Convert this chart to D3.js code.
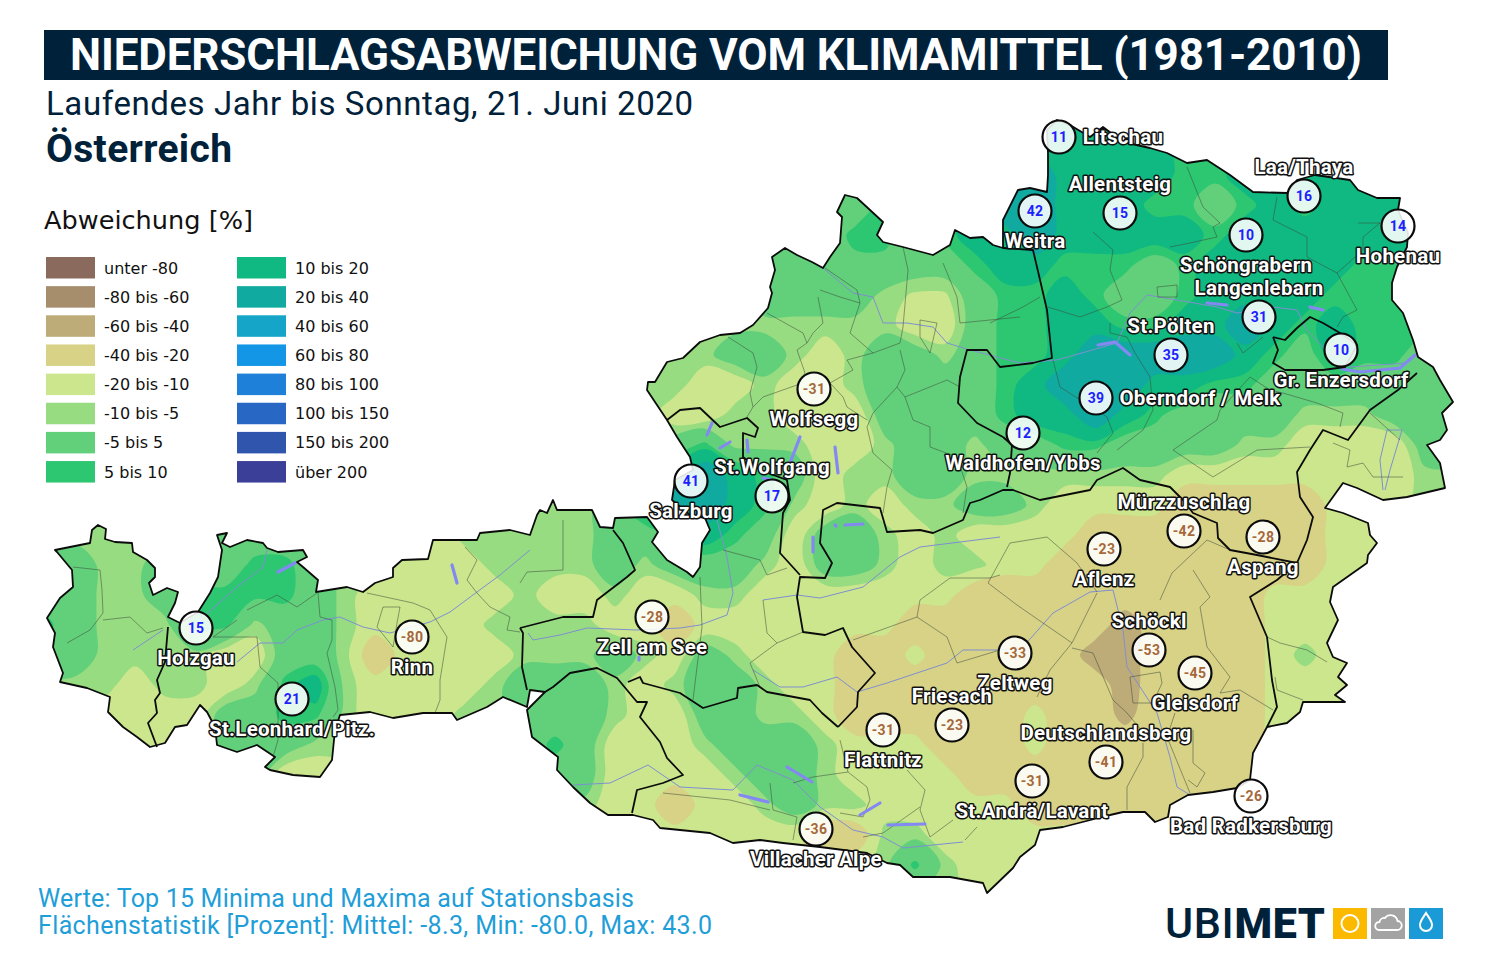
<!DOCTYPE html>
<html lang="de">
<head>
  <meta charset="UTF-8" />
  <title>Niederschlagsabweichung vom Klimamittel</title>
  <script src="https://d3js.org/d3.v7.min.js"></script>
  <style>
    body { margin: 0; background: #fff; }
    svg { display: block; font-family: 'Roboto', sans-serif; }
    .legend text, .legend-title { font-family: 'DejaVu Sans', sans-serif; fill: #111; }
    .st-label {
      font-weight: 700; font-size: 20.5px; letter-spacing: 0.25px; fill: #fff; stroke: #111; stroke-width: 3px;
      paint-order: stroke; stroke-linejoin: round; text-anchor: middle;
    }
    .st-value { font-weight: 700; font-size: 14px; letter-spacing: 0.3px; text-anchor: middle; }
  </style>
</head>
<body>
  <svg id="chart" width="1500" height="960"></svg>
  <script>
    // legend classes
    const classLabels = ["unter -80", "-80 bis -60", "-60 bis -40", "-40 bis -20", "-20 bis -10", "-10 bis -5", "-5 bis 5", "5 bis 10",
      "10 bis 20", "20 bis 40", "40 bis 60", "60 bis 80", "80 bis 100", "100 bis 150", "150 bis 200", "über 200"];
    const classColors = ["#8a6a5c", "#a68d6c", "#bdac78", "#d8d286", "#cbe68c", "#98dc82", "#62d07a", "#2ec771",
      "#10b981", "#10aaa0", "#14a5c8", "#1496e6", "#1e80d8", "#2868c4", "#3055ac", "#3c3f98"];
    const classBreaks = [-80, -60, -40, -20, -10, -5, 5, 10, 20, 40, 60, 80, 100, 150, 200];

    // stations (map grid units)
    const stationNames = ["Litschau", "Allentsteig", "Weitra", "Laa/Thaya", "Hohenau", "Schöngrabern", "Langenlebarn", "St.Pölten",
      "Oberndorf / Melk", "Gr. Enzersdorf", "Waidhofen/Ybbs", "Wolfsegg", "St.Wolfgang", "Salzburg", "Mürzzuschlag", "Aspang",
      "Aflenz", "Schöckl", "Gleisdorf", "Zeltweg", "Friesach", "Flattnitz", "Deutschlandsberg", "St.Andrä/Lavant",
      "Bad Radkersburg", "Villacher Alpe", "Zell am See", "Rinn", "Holzgau", "St.Leonhard/Pitz."];
    const stationValues = [11, 15, 42, 16, 14, 10, 31, 35, 39, 10, 12, -31, 17, 41, -42, -28, -23, -53, -45, -33, -23, -31, -41, -31, -26, -36, -28, -80, 15, 21];
    const stationE = [105.9, 112.0, 103.5, 130.4, 139.8, 124.6, 125.9, 117.1, 109.6, 134.1, 102.3, 81.4, 77.2, 69.1, 118.4, 126.3,
      110.4, 114.9, 119.5, 101.5, 95.2, 88.3, 110.6, 103.2, 125.1, 81.6, 65.2, 41.2, 19.6, 29.2];
    const stationN = [13.7, 21.3, 21.1, 19.6, 22.6, 23.5, 31.7, 35.5, 39.8, 35.0, 43.3, 38.9, 49.6, 48.1, 53.1, 53.7,
      54.9, 65.0, 67.3, 65.3, 72.5, 73.0, 76.2, 78.1, 79.6, 82.9, 61.7, 63.7, 62.8, 69.9];
    const stationSide = ["right", "above", "below", "above", "below", "below", "above", "above",
      "right", "below", "below", "below", "above", "below", "above", "below",
      "below", "above", "below", "below", "above", "below", "above", "below",
      "below", "below", "below", "below", "below", "below"];

    // anomaly field, rows north to south, columns west to east
    const fieldRows = [
      [0,0,0,0,0,0, 0,0,0,0,0,0, 0,0,0,0,0,0, 0,0,0,0,0,0, 0,0,0,0,0,0, 7,7,7,15,15,15, 15,15,15,15,15,15, 15,15,15,15,15,15],
      [0,0,0,0,0,0, 0,0,0,0,0,0, 0,0,0,0,0,0, 0,0,0,0,0,0, 0,0,0,0,0,0, 7,7,15,15,15,15, 15,15,7,7,7,15, 15,15,15,15,15,15],
      [0,0,0,0,0,0, 0,0,0,0,0,0, 0,0,0,0,0,0, 0,0,0,0,0,0, 0,0,0,0,0,0, 7,15,15,30,15,15, 15,15,7,7,15,15, 15,15,15,15,15,15],
      [0,0,0,0,0,0, 0,0,0,0,0,0, 0,0,0,0,0,0, 0,0,0,0,0,0, 0,0,0,0,7,7, 7,15,30,30,15,15, 15,7,7,0,7,15, 7,15,15,15,15,15],
      [0,0,0,0,0,0, 0,0,0,0,0,0, 0,0,0,0,0,0, 0,0,0,0,0,0, 0,0,0,7,7,0, 7,15,15,30,15,15, 15,15,15,7,15,15, 15,15,15,15,15,15],
      [0,0,0,0,0,0, 0,0,0,0,0,0, 0,0,0,0,0,0, 0,0,0,0,0,0, 0,0,0,3,3,0, 0,7,15,15,7,7, 7,0,7,15,15,15, 15,15,7,7,7,7],
      [-7,-7,-7,-7,-7,-7, -7,-7,-7,-7,-7,-7, -7,-7,-7,-7,-7,-7, -7,-7,-7,-7,-7,-7, 0,0,0,0,-7,-11, -11,0,7,7,15,7, 0,0,7,15,15,15, 15,7,7,7,7,7],
      [-7,-7,-7,-7,-7,-7, -7,-7,-7,-7,-7,-7, -7,-7,-7,-7,-7,-7, -7,-7,-7,-7,-7,-7, -7,-7,-7,-7,-7,-15, -15,0,7,7,15,15, 7,7,15,15,30,15, 7,15,7,7,7,7],
      [-7,-7,-7,-7,-7,-7, -7,-7,-7,-7,-7,-7, -7,-7,-7,-7,-7,-7, -7,-7,-7,-7,-7,0, 0,-7,-15,-7,0,0, -7,0,7,7,15,30, 30,30,30,30,15,7, 0,15,7,7,0,0],
      [-7,-7,-7,-7,-7,-7, -7,-7,-7,-7,-7,-7, -7,-7,-7,-7,-7,-7, -7,-7,-7,-7,-15,-15, -7,-15,-15,-7,0,0, 0,0,7,15,30,30, 30,15,15,7,7,0, 0,0,0,0,0,0],
      [-7,-7,-7,-7,-7,-7, -7,-7,-7,-7,-7,-7, -7,-7,-7,-7,-7,-7, -7,-7,-7,-15,-15,-7, -7,-15,-15,-15,0,0, 0,0,7,15,15,30, 15,7,0,0,0,0, -7,-7,-7,0,0,0],
      [-7,-7,-7,-7,-7,-7, -7,-7,-7,-7,-7,-7, -7,-7,-7,-7,-7,-7, -7,-7,-7,0,7,-7, -7,-7,-15,-15,-7,0, 0,-7,0,0,7,7, 0,0,0,0,-7,-7, -15,-15,-15,-15,0,0],
      [-7,-7,-7,-7,-7,-7, -7,-7,-7,-7,-7,-7, -7,-7,-7,-7,-7,-7, -7,-7,7,15,30,15, 7,0,-15,-7,-7,0, 0,-7,-7,-7,-7,-7, -7,-7,-15,-15,-15,-15, -15,-15,-15,-15,-7,-7],
      [-7,-7,-7,-7,-7,-7, -7,-7,-7,-7,-7,-7, -7,-7,-7,-7,-7,-7, -7,0,15,30,30,15, 7,-7,-15,-7,-15,-7, -7,0,0,-7,-15,-15, -15,-15,-30,-30,-30,-30, -30,-15,-15,-15,-7,-7],
      [-7,-7,-7,-7,-7,0, 0,0,0,0,-7,-7, -7,-15,-7,-7,-7,-7, -7,0,0,7,15,7, 0,-15,0,0,-7,-15, -7,-15,-15,-15,-15,-30, -30,-30,-30,-30,-30,-30, -30,-15,-15,-15,-15,-15],
      [0,0,-7,-7,0,0, 0,7,7,0,-7,-7, -15,-15,-15,-7,-7,-7, -7,0,-7,0,0,0, -7,-15,0,0,-7,-15, -7,-7,-15,-15,-30,-30, -30,-30,-30,-30,-30,-30, -30,-15,-15,-15,-15,-15],
      [0,0,-7,-7,0,7, 7,7,7,0,-7,-15, -15,-15,-15,-15,-7,-15, -15,-7,-15,-15,-7,-7, -15,-15,-15,-15,-15,-15, -15,-30,-30,-30,-30,-30, -30,-30,-30,-30,-30,-15, -15,-15,-15,-15,-15,-15],
      [7,0,-7,-7,-7,7, 7,-7,0,0,-7,-15, -15,-15,-15,-7,-7,-7, -7,-15,-15,-30,-15,-15, -15,-15,-15,-15,-15,-30, -30,-30,-30,-30,-30,-30, -50,-30,-30,-30,-30,-15, -15,-15,-15,-15,-15,-15],
      [0,0,-7,-7,-7,-7, -15,-15,0,0,-7,-30, -15,-15,-15,-15,-7,-7, -7,0,-7,-15,0,-7, -15,-15,-15,-30,-30,-15, -30,-30,-30,-30,-30,-50, -50,-30,-30,-30,-30,-15, -7,-15,-15,-15,-15,-15],
      [-7,-7,-7,-15,-7,-7, -15,-7,7,15,-7,-15, -15,-15,-15,-7,0,0, 0,-7,-15,-7,0,0, -7,-15,-15,-30,-30,-30, -30,-30,-30,-30,-30,-30, -50,-30,-30,-30,-30,-15, -15,-15,-15,-15,-15,-15],
      [-15,-15,-15,-15,-15,-15, 0,0,7,7,-7,-15, -15,-15,-7,-7,0,0, 0,-7,-15,-15,0,0, -7,-7,-15,-30,-30,-30, -30,-30,-30,-15,-30,-30, -45,-30,-30,-30,-30,-15, -15,-15,-15,-15,-15,-15],
      [-15,-15,-15,-15,-15,-15, 0,0,0,-7,-7,-15, -15,-15,-7,-7,0,7, 0,-15,-15,-15,-7,0, 0,0,-7,-15,-15,-15, -30,-30,-30,-15,-30,-30, -30,-30,-30,-30,-30,-15, -15,-15,-15,-15,-15,-15],
      [-15,-15,-15,-15,-15,-15, 0,0,-15,-15,-15,-15, -15,-15,-7,-7,0,0, 0,-15,-15,-15,-15,-7, 0,0,-7,-15,-15,-15, -15,-30,-30,-30,-30,-30, -30,-30,-30,-30,-30,-30, -30,-15,-15,-15,-15,-15],
      [-7,-7,-7,-7,-7,-7, -7,-7,-7,-7,-7,-7, -7,-7,-7,-7,-7,-7, -7,-15,-15,-30,-15,-15, -7,0,-7,-7,-15,-15, -15,-15,-15,-30,-30,-30, -30,-30,-30,-30,-30,-30, -30,-30,-30,-30,-30,-30],
      [-7,-7,-7,-7,-7,-7, -7,-7,-7,-7,-7,-7, -7,-7,-7,-7,-7,-7, -15,-15,-15,-15,-15,-15, -15,-15,-30,-30,-7,-7, -15,-15,-15,-15,-15,-15, -30,-30,-30,-30,-30,-30, -30,-30,-30,-30,-30,-30],
      [-7,-7,-7,-7,-7,-7, -7,-7,-7,-7,-7,-7, -7,-7,-7,-7,-7,-7, -15,-15,-15,-15,-15,-15, -15,-15,-30,-15,-7,7, -7,-15,-15,-15,-15,-15, -30,-30,-30,-30,-30,-30, -30,-30,-30,-30,-30,-30],
      [-7,-7,-7,-7,-7,-7, -7,-7,-7,-7,-7,-7, -7,-7,-7,-7,-7,-7, -15,-15,-15,-15,-15,-15, -15,-15,-15,-15,-7,-7, -7,-15,-15,-15,-15,-15, -30,-30,-30,-30,-30,-30, -30,-30,-30,-30,-30,-30]
    ];

    // Austria and the Bundesland borders, east/north in map grid units
    const outline = [[5.5,55],[9,54.3],[9.2,53],[9.8,52.5],[10.6,52.9],[10.5,53.9],[11.5,54.2],[13.2,54.3],[13.3,55.2],[14.7,56],[15.5,56.8],[15.5,57.7],[14.9,58.3],[15.3,59.5],[16.7,58.8],[17.8,59.2],[17.5,60.3],[16.8,61.7],[18,62.3],[19.8,61.2],[21,59.3],[21.8,57.7],[22.2,55],[21.7,53.5],[22.7,53.3],[22.2,54.3],[23,54.7],[24.7,54],[26.3,54.3],[26.7,54.8],[27.8,55.2],[30.3,55],[30.7,55.7],[29.7,56.2],[30.3,56.7],[31.8,58],[31.6,59.2],[34.7,58.7],[36.3,59.2],[37.5,58.3],[39.3,57.7],[39.3,56.8],[40.2,56],[42.8,55.9],[43.3,54],[47.7,54],[48,53.3],[51,53],[53,53.5],[53.7,51.5],[54,51],[54.7,51.3],[55.3,50],[55.7,51],[57.2,51],[59.2,51],[60,52.7],[61.3,52.8],[61.5,51.8],[64.7,51.7],[65.8,53.2],[65.2,54.2],[66.7,56],[68.7,57.2],[69.3,57.7],[70,56.7],[70.2,54.3],[71,53],[70.5,51.8],[69,51.5],[67.2,50],[67.5,48],[69.3,47],[69,45.7],[67.7,43.7],[66.7,42],[64.7,39],[64.8,38.2],[65.5,38.2],[66.7,36.2],[68.3,35.8],[70,34.2],[72,33.5],[74,33.3],[75.3,32.5],[76.8,30.8],[77.2,29.3],[77,28.7],[77.5,27],[77.2,25.7],[78.5,24.8],[79.7,25.5],[81.2,26.2],[82.3,26.8],[83,25.7],[84,24.3],[84.2,21.7],[83.7,21.2],[84.5,19.5],[85.7,19.8],[87,21],[88.3,22.2],[87.7,23.5],[88.3,24.2],[90.3,24.7],[93.3,25.5],[95,24.5],[95.5,23],[97,23.8],[98.3,23.7],[99.3,24.5],[100.3,24.8],[100.3,22],[101.8,19],[103,18.8],[104.7,19.2],[104.8,17.5],[104.8,15.3],[104.7,13],[105.7,12],[107,12.5],[109,13.7],[110.3,12.7],[112.3,14.2],[115,14.8],[116.7,15.3],[118.7,16.3],[120.7,16],[123,17.5],[125.3,19.2],[128.7,19.3],[129.7,18],[131.5,17.5],[135,18],[135.8,19],[137.7,19.8],[140,19.8],[139.8,21],[140.8,23.3],[140.7,24.7],[139.7,26.7],[139.2,28.3],[139.2,30],[140.3,31.3],[141.3,34],[141.8,35.7],[143.3,36.7],[144,38],[145.3,40.2],[144.2,41.3],[144.7,43],[144,44],[142.7,44.5],[144,46.3],[144.5,48.8],[140.7,49.7],[138.3,50],[135.7,48.8],[134.3,48.3],[132.5,50.8],[134.3,51.3],[136.8,52.3],[137,53.5],[137.7,54.3],[136.8,55.5],[136.7,56.3],[133.3,58.7],[133,60.2],[133.8,62],[132.7,64.3],[133.3,65.7],[134.7,66.3],[133.8,67.7],[134.7,68.5],[133.5,69.5],[134.5,70.2],[130.3,70.2],[130,71.2],[128.7,72.3],[126.7,72.7],[125.3,75.3],[125,78],[123.7,78.8],[121.3,79.2],[118.8,79.5],[117,80.5],[116.8,81.7],[115.5,82.2],[114.5,81.2],[112.3,81.2],[111,81.5],[106.3,82.7],[104,83],[103.5,84.5],[102,85.7],[101.3,86.8],[98.7,89.3],[98.3,88.3],[95,87.7],[91.3,87.7],[90,86.5],[88.7,86.3],[86.7,85.3],[82,84.7],[78.3,84.3],[76,84],[73.3,84.3],[71,83.3],[66,82.8],[65.3,82],[63.3,81.5],[60.8,81.5],[59,80.3],[57.3,78.7],[55.7,77],[55.8,75.7],[53.2,73.7],[52.7,71],[54.5,69.2],[53,69],[52.7,70.7],[50.3,69.7],[48.7,70.7],[45.7,72],[45.2,71.3],[42.3,71.3],[39.3,71.8],[37,71.2],[34,71.5],[33.5,73],[33.2,76],[32,77.7],[29.3,77.5],[27,77],[26.5,76.7],[27.5,75.7],[25.7,74.5],[23.7,75.2],[21.7,74.5],[21.5,72.7],[20.7,71.2],[20,70.5],[18.7,72.5],[17.5,72.7],[16.5,74.3],[15,74.7],[13.7,73.7],[12.3,72.7],[10.8,71.2],[11,69.7],[8.7,68.8],[6,68.2],[6.3,67.3],[5.3,64.7],[5.5,63.3],[4.7,61.8],[6,59.8],[7.3,58.7],[7.2,57],[5.7,55.2]];
    const stateBorders = [
      [[16.8,62.7],[16.5,66.2],[15.7,68],[16,69.3],[15.5,70],[15.7,71.3],[14.8,72.3],[15.7,74.7]],
      [[54.5,69.2],[55.3,68.7],[57,67.3],[59.7,66.8],[61.7,67.8],[63.7,70.2],[64.7,70.2],[64,71.7],[66,74.2],[66.7,75.8],[68.3,77.5],[66.3,78.3],[63.7,79],[63.2,81.3]],
      [[52,62.8],[56.3,61.7],[59.3,61.7],[59.7,60],[62.7,57.7],[63.5,57],[62.3,54.3],[61.3,53]],
      [[52,62.8],[52.3,63.3],[52.2,66.7],[52.7,69]],
      [[62.8,68.2],[64,67.7],[64.3,68.3],[68,69.3],[70.3,70.8],[73.7,69.8],[73.8,68.8],[75.7,68.5],[76.7,69.2],[81,70],[82.2,71.3],[83.8,72.7]],
      [[83.8,72.7],[85.7,70.7],[85.8,69.2],[87.5,67.3],[85.2,64.7],[84.3,62.8],[82.5,63.5],[80.3,63.2],[79.7,59.7],[80,57.7],[82.5,57.8],[83.2,56.3],[82,54.3],[82.3,51],[83.7,50.3],[88,50.8],[88.7,53.2],[92,53],[93.3,53.3],[96.3,52],[97,50.3],[98,50],[100.3,49],[101.3,49],[104,50],[109,49],[109.7,48],[112.3,46.8],[114,48],[117,48.7],[118.3,50],[119.3,51.3],[121.7,52.3],[121.8,53.8],[123,55],[125.7,55.5],[129.7,56.3],[127.7,58],[125,59.7],[126.7,63.7],[127.2,68],[127.7,70.7],[126.7,72.7]],
      [[129.7,56.3],[130.7,54],[131.3,51.7],[130,49.7],[129.7,47.2],[131,45],[132.3,43],[134.8,44],[137,41],[139.8,39],[141.7,37.3]],
      [[66.7,42],[68,41],[70,40.8],[72,42.7],[74.7,41.8],[75.8,42.8],[75.5,43.7],[74.3,43.3],[74.3,45.7],[76,47],[78.7,48],[79,50],[78.3,51.3],[78,55.3],[80,57.5]],
      [[100.3,43.7],[101.2,44.5],[101,47.3],[100.7,48.7]],
      [[100.3,24.8],[103.3,25],[103.7,26.7],[104.7,31],[105.2,35.8],[103.3,36.3],[100,36.7],[98.7,35],[96.7,35],[96,37.7],[95.8,40.3],[97.7,42.3],[100.3,43.7]],
      [[127.3,33.7],[128.5,34],[129.7,32.8],[131,31.7],[132.3,32.3],[134,33.3],[135.7,34.5],[134.5,36.7],[132.3,37],[128.5,37],[127.3,36.3],[127.8,35],[127.3,33.7]]
    ];
    const districtLines = [
      [[7.3,56.7],[10,57],[10.2,59],[10.3,61.3],[9,63],[6.7,64.3]],[[10.3,62],[13,61.7],[14.7,63.3],[16.3,62.8]],
      [[24.7,61],[27.7,59.5],[29.7,60.7],[31.7,59.3]],[[23.7,62],[21.3,63.7],[25.7,63.7],[26,66.7],[27.8,68.3],[27.8,74],[27.3,75.7]],
      [[31.8,59.3],[32,61.7],[33.2,62],[33.2,64],[32.7,65.3],[33.5,68.7],[33.8,71],[33.3,71.7]],
      [[36.7,59.3],[41.3,60.3],[43,61],[44.7,63.7],[44,68],[44,70],[43.5,71.3]],[[37.7,62.7],[38.3,60.7],[40,60.7],[39.7,62.3],[39.3,64.7],[37.7,62.7]],
      [[47.7,59.3],[49,60.7],[51,61.7],[50.7,63],[52,63.2]],[[46.5,54.7],[47.7,56],[46.7,58],[47.7,59.3]],
      [[56.3,52],[56.3,57],[52.7,57.2],[52,58.3]],[[76.3,60],[76.7,63.3],[77.7,64.3]],[[70,57.7],[70.2,62.7],[69.7,66.7],[69.3,70]],
      [[72.3,55],[76,56],[76.7,57.5],[78.7,56.8]],[[77.7,64.3],[80.3,63.2]],[[77.7,64.3],[75,66.3],[76,68.7]],
      [[85.3,64],[91.7,61.7],[92,60],[95,57.8],[99,57.8],[100,57.5]],[[91.7,61.7],[94.7,63.7],[95.7,66.3],[100,65]],
      [[98.8,58.3],[101.7,60.5],[104.3,62.3],[107.2,64.3],[109.7,59.3]],[[98.8,58.3],[101,54.3],[104.7,53.7],[107.7,56.3],[109.7,59.2]],
      [[107.2,64.3],[105,67],[103.7,69.7]],[[107.2,64.8],[109.3,65.3],[111.3,70],[112.7,71.3],[114.7,73.7]],
      [[113,67.7],[116,67.2],[116.2,68.3],[115.3,70.3],[113.3,70.3],[113,67.7]],[[116,60],[117.2,57.3],[120.7,54],[123,55]],
      [[119.3,57],[121,59.7],[120,60.7],[120.7,64.7],[123,67.7],[122,69.3],[124,69],[127.3,71]],
      [[117.5,71.3],[116.7,73.7],[119,79.3]],[[119.3,73],[119.3,76.3],[120.5,77.3],[119.7,78.7],[118.8,78]],
      [[114.3,74.3],[114.3,75.7],[112.7,78.7],[112.7,81]],[[126.7,63.7],[128,64.3],[130.7,65],[132.7,66.2]],[[127.5,67.7],[127.7,69],[130.3,70]],
      [[84,74],[84.8,77.2],[81.3,77.7],[79.3,78.3]],[[84.8,77.2],[86.7,78.7],[87,80],[86.3,81.7],[84,81.3]],
      [[90.7,77],[92.5,79],[92,81],[93,83.7],[95.3,82]],[[86.3,83.7],[88.3,83.3],[92,80.7]],[[96.5,84],[97.7,82.7]],
      [[77,78.3],[77.3,81],[79.7,81.7],[79.3,84]],[[66.3,79.3],[73,80],[77,81]],
      [[72.8,33.7],[75.3,35.3],[75.7,36.7],[75,39.3],[75.3,40.7],[74.7,41.7]],
      [[76.7,31.3],[80.3,33.3],[80.7,34.3],[79.7,35],[80.5,37.3],[79.7,38.5],[76.3,39.7],[75.3,40.7]],
      [[82.5,26.8],[85.7,29],[86,30.3],[85,33.3],[87.3,35.3],[84.7,36],[85.3,37],[83,38.3],[84.3,39.7],[84.7,40.7],[86.7,42]],
      [[82,29],[84,29.7],[86,30.3]],[[81.8,29.7],[82.3,32.3],[81.3,33.3],[80.7,34.3]],
      [[87.3,35.3],[90,34.3],[90.3,32.7],[90.8,27],[90.3,24.7]],[[90,35],[90.5,37],[89.7,38.7],[87.3,41.3],[86.7,42.7],[87.3,45.3],[89.2,47],[88.7,48.7],[88.3,51.3]],
      [[90.5,39.7],[94.7,38],[96,38.7]],[[89.7,38.7],[90.5,39.7],[91.3,42],[93,42.7],[93,44.7],[95.7,45.7],[96.7,48.7],[96.3,51.3]],
      [[92,32],[93.7,32.3],[93,35.3],[92,33.7],[92,32]],[[94.3,26.3],[95.7,29.7],[96,32.3],[102,31.7]],
      [[99,32.3],[102.3,30.7],[104,29.7]],[[104.8,30.7],[108,31.7],[110.7,30.7],[112.2,30],[111,27],[111.3,25],[109.3,23.2]],
      [[111,32.3],[111,33.3],[112.7,33.7],[113.5,35.3],[115,37.7],[115.3,41],[114.3,43],[111.7,45]],
      [[105.3,36],[106,38.7],[110.7,41.7],[111.3,43.3],[109.7,45.3]],[[115.7,28.7],[117.7,28.5],[117.7,29.7],[115.8,29.7],[115.7,28.7]],
      [[117,24.7],[119,24.3],[121.7,23.7],[121.3,22.7],[122,22.3],[120.3,20.7],[118.7,16.7]],[[127.3,22],[127.7,19.7]],
      [[127.3,22],[130.7,23.7],[130.7,25.7],[133.7,27.3],[135.7,31],[134.3,31.7],[133.7,32.7]],[[135.8,22.3],[138,22.3],[136.3,23.7],[136.3,25],[133.7,27.3]],
      [[123.7,34.3],[124.3,35.3],[126.3,33.7]],[[121.7,42],[122,41],[125,37.7],[127,39],[128.3,39.3],[131.7,40.3],[134.3,41.3],[134,42.7]],
      [[121.7,42],[117.3,45],[121.3,47.7],[125.7,45],[131,44.7]],[[133.3,44.3],[135,45],[134.7,46.7],[136.3,46.3],[137.3,47.7],[140.3,47.7]],[[137,41.3],[140,44]]
    ];
    const riverLines = [
      [[13.3,65],[16.3,63]],[[20,62],[23.7,58.7],[26.3,56.7],[26.7,55]],
      [[23.7,66.2],[26,64.3],[28.3,64.3],[29.7,63],[32.3,62],[34,61.7],[36.3,62.7],[39,63.3],[43,62.2],[45,61.2],[47.7,59.2],[50,57.5],[53,55]],
      [[52.8,63.3],[53.3,64],[56,63.5],[58.7,62.8],[63.7,63],[68,62.8],[70,62.5],[72.7,61.5],[73.3,59.3],[72.7,55.7],[71.7,52]],
      [[76.3,60],[79.7,59.5],[82,59.8],[86.3,58.7],[90,55.7],[92,54.7],[100,53.7]],
      [[75.3,67],[78,68.7],[80.3,68.7],[83.7,67.7],[85.7,69.2],[88.7,68.3],[94.7,66.3],[96.3,65],[100,65],[102.3,64.7],[105.3,61.3],[109,59.2],[111.3,59],[112.3,63],[112.7,66.7],[115.7,71.3],[117,75.7],[117.7,78.7],[119,79.5]],
      [[57.3,78.5],[61,78.3],[64.8,76.5],[68,78.7],[73.3,79],[75.7,76.5],[79.3,78],[82,80.7],[85.3,83],[88.3,83.7],[90.3,84.8],[96.3,84.2]],
      [[82.3,26.8],[85.3,29.3],[87.3,29.7],[88.3,32.3],[90.7,32.3],[93.3,32.7],[94.7,34.3],[97,35],[102,36.3],[105.7,36],[111.7,34.3],[113,31.3],[114.7,29.5],[117.7,30],[121.7,30.7],[123.7,31.3],[127.3,30.7],[129.7,31],[130.7,33],[132.3,34.7],[135,36.7],[140.7,36.3],[141.7,35.5]],
      [[138.3,49],[138,46],[138.7,43],[140.2,43],[139,47],[138.5,49]]
    ];
    const lakeLines = [
      [[80,43.7],[79,46.3]],[[83.5,44.7],[83.8,47.3]],[[73,44.2],[72,44.8]],[[71.2,42.3],[70.7,43.5]],[[74.7,44],[74.8,45.2]],[[76.3,47.8],[77.2,48]],
      [[78.7,76.7],[81.2,78.2]],[[74,79.5],[76.8,80.2]],[[86,81.5],[88,80.3]],[[88.8,82.5],[92.5,82.4]],[[45.2,56.5],[45.7,58.3]],[[27.8,57.2],[29.5,56.3]],
      [[63.9,65.7],[63.9,66]],[[81.3,53.7],[81.3,55.2]],[[84.5,52.5],[86.3,52.4]],[[83.5,52.5],[83.6,52.6]],[[120.7,30.3],[122.7,30.5]],[[131,30.7],[132.3,31]],
      [[134.2,36.9],[136,37.2],[140,36.8],[141.5,35.5]],[[109.8,34.5],[111.5,34.2],[113,35.5]]
    ];

    const width = 1500, height = 960;
    const svg = d3.select("#chart");

    const mapX = d3.scaleLinear().domain([0, 150]).range([0, width]);
    const mapY = d3.scaleLinear().domain([0, 96]).range([0, height]);
    const gridX = d3.scaleLinear().domain([0.5, 47.5]).range([45, 1455]);
    const gridY = d3.scaleLinear().domain([0.5, 26.5]).range([115, 895]);
    const color = d3.scaleThreshold().domain(classBreaks).range(classColors);

    const mapLine = d3.line().x(d => mapX(d[0])).y(d => mapY(d[1]));
    const smoothRing = d3.line().x(d => gridX(d[0])).y(d => gridY(d[1])).curve(d3.curveCatmullRomClosed.alpha(0.5));

    svg.append("defs").append("clipPath").attr("id", "at")
      .append("path").attr("d", mapLine(outline) + "Z");

    // header
    svg.append("rect").attr("x", 44).attr("y", 30).attr("width", 1344).attr("height", 50).attr("fill", "#00213a");
    svg.append("text").attr("x", 70).attr("y", 70).attr("fill", "#fff").attr("font-size", 44).attr("font-weight", 700)
      .attr("textLength", 1292).text("NIEDERSCHLAGSABWEICHUNG VOM KLIMAMITTEL (1981-2010)");
    svg.append("text").attr("x", 46).attr("y", 115).attr("fill", "#00213a").attr("font-size", 33)
      .attr("textLength", 647).text("Laufendes Jahr bis Sonntag, 21. Juni 2020");
    svg.append("text").attr("x", 46).attr("y", 162).attr("fill", "#00213a").attr("font-size", 39).attr("font-weight", 700)
      .attr("textLength", 186).text("Österreich");

    // legend
    svg.append("text").attr("class", "legend-title").attr("x", 44).attr("y", 229).attr("font-size", 25.6).text("Abweichung [%]");
    const legend = svg.append("g").attr("class", "legend");
    const legendItem = legend.selectAll("g").data(classLabels).join("g")
      .attr("transform", (d, i) => `translate(${i < 8 ? 46 : 237},${257 + (i % 8) * 29.15})`);
    legendItem.append("rect").attr("width", 49).attr("height", 21.5).attr("fill", (d, i) => classColors[i]);
    legendItem.append("text").attr("x", 58).attr("y", 16.5).attr("font-size", 16).text(d => d);

    // field
    const map = svg.append("g").attr("clip-path", "url(#at)");
    map.append("path").attr("d", mapLine(outline) + "Z").attr("fill", classColors[0]);
    const contours = d3.contours().size([48, fieldRows.length]).thresholds(classBreaks)(fieldRows.flat());
    map.selectAll("path.band").data(contours).join("path")
      .attr("class", "band")
      .attr("fill", d => color(d.value))
      .attr("d", d => d.coordinates.flat().map(ring => smoothRing(ring.slice(0, -1))).join(""))
      .attr("fill-rule", "evenodd");

    // thin lines
    map.selectAll("path.river").data(riverLines).join("path").attr("class", "river")
      .attr("d", mapLine).attr("fill", "none").attr("stroke", "#7f8fd0").attr("stroke-width", 1);
    map.selectAll("path.district").data(districtLines).join("path").attr("class", "district")
      .attr("d", mapLine).attr("fill", "none").attr("stroke", "#3c4a3c").attr("stroke-opacity", 0.65).attr("stroke-width", 0.8);
    map.selectAll("path.lake").data(lakeLines).join("path").attr("class", "lake")
      .attr("d", mapLine).attr("fill", "none").attr("stroke", "#8488f2").attr("stroke-width", 3.2).attr("stroke-linecap", "round");

    svg.append("g").selectAll("path").data(stateBorders).join("path")
      .attr("d", mapLine).attr("fill", "none").attr("stroke", "#0b0b0b").attr("stroke-width", 1.8).attr("stroke-linejoin", "round");
    svg.append("path").attr("d", mapLine(outline) + "Z").attr("fill", "none").attr("stroke", "#0b0b0b").attr("stroke-width", 1.8).attr("stroke-linejoin", "round");

    // stations
    const stationIdx = d3.range(stationNames.length);
    const labelPos = i => {
      const x = mapX(stationE[i]), y = mapY(stationN[i]);
      if (stationSide[i] === "above") return [x, y - 22];
      if (stationSide[i] === "below") return [x, y + 37];
      return [x + 24 + stationNames[i].length * 5, y + 7];
    };
    svg.append("g").selectAll("circle").data(stationIdx).join("circle")
      .attr("cx", i => mapX(stationE[i])).attr("cy", i => mapY(stationN[i])).attr("r", 16.5)
      .attr("fill", "#fff").attr("fill-opacity", 0.88).attr("stroke", "#0b0b0b").attr("stroke-width", 2.2);
    svg.append("g").selectAll("text").data(stationIdx).join("text").attr("class", "st-value")
      .attr("x", i => mapX(stationE[i])).attr("y", i => mapY(stationN[i]) + 5)
      .attr("fill", i => stationValues[i] < 0 ? "#a5683a" : "#2020ff").text(i => stationValues[i]);
    svg.append("g").selectAll("text").data(stationIdx).join("text").attr("class", "st-label")
      .attr("x", i => labelPos(i)[0]).attr("y", i => labelPos(i)[1]).text(i => stationNames[i]);

    // footer
    svg.append("text").attr("x", 38).attr("y", 907).attr("fill", "#1f9ed8").attr("font-size", 25)
      .attr("textLength", 596).text("Werte: Top 15 Minima und Maxima auf Stationsbasis");
    svg.append("text").attr("x", 38).attr("y", 934).attr("fill", "#1f9ed8").attr("font-size", 25)
      .attr("textLength", 674).text("Flächenstatistik [Prozent]: Mittel: -8.3, Min: -80.0, Max: 43.0");

    // logo
    const logo = svg.append("g");
    const wordmark = logo.append("text").attr("x", 1165).attr("y", 938).attr("fill", "#00213a").attr("font-size", 43).attr("textLength", 160);
    wordmark.append("tspan").attr("font-weight", 500).text("UBI");
    wordmark.append("tspan").attr("font-weight", 900).text("MET");
    logo.append("rect").attr("x", 1333).attr("y", 908).attr("width", 34).attr("height", 31).attr("fill", "#fbb900");
    logo.append("rect").attr("x", 1371).attr("y", 908).attr("width", 34).attr("height", 31).attr("fill", "#a3a3a3");
    logo.append("rect").attr("x", 1409).attr("y", 908).attr("width", 34).attr("height", 31).attr("fill", "#1a9ad6");
    logo.append("circle").attr("cx", 1350).attr("cy", 923.5).attr("r", 8.5).attr("fill", "none").attr("stroke", "#fff").attr("stroke-width", 2);
    logo.append("path").attr("d", "M1379 930h18a4.5 4.5 0 0 0 .5-9a7 7 0 0 0-12.5-3a5 5 0 0 0-5.5 4a4 4 0 0 0-.5 8z")
      .attr("fill", "none").attr("stroke", "#fff").attr("stroke-width", 1.8);
    logo.append("path").attr("d", "M1426 913c3 5 6 8 6 12a6 6 0 0 1-12 0c0-4 3-7 6-12z")
      .attr("fill", "none").attr("stroke", "#fff").attr("stroke-width", 2);
  </script>
</body>
</html>
